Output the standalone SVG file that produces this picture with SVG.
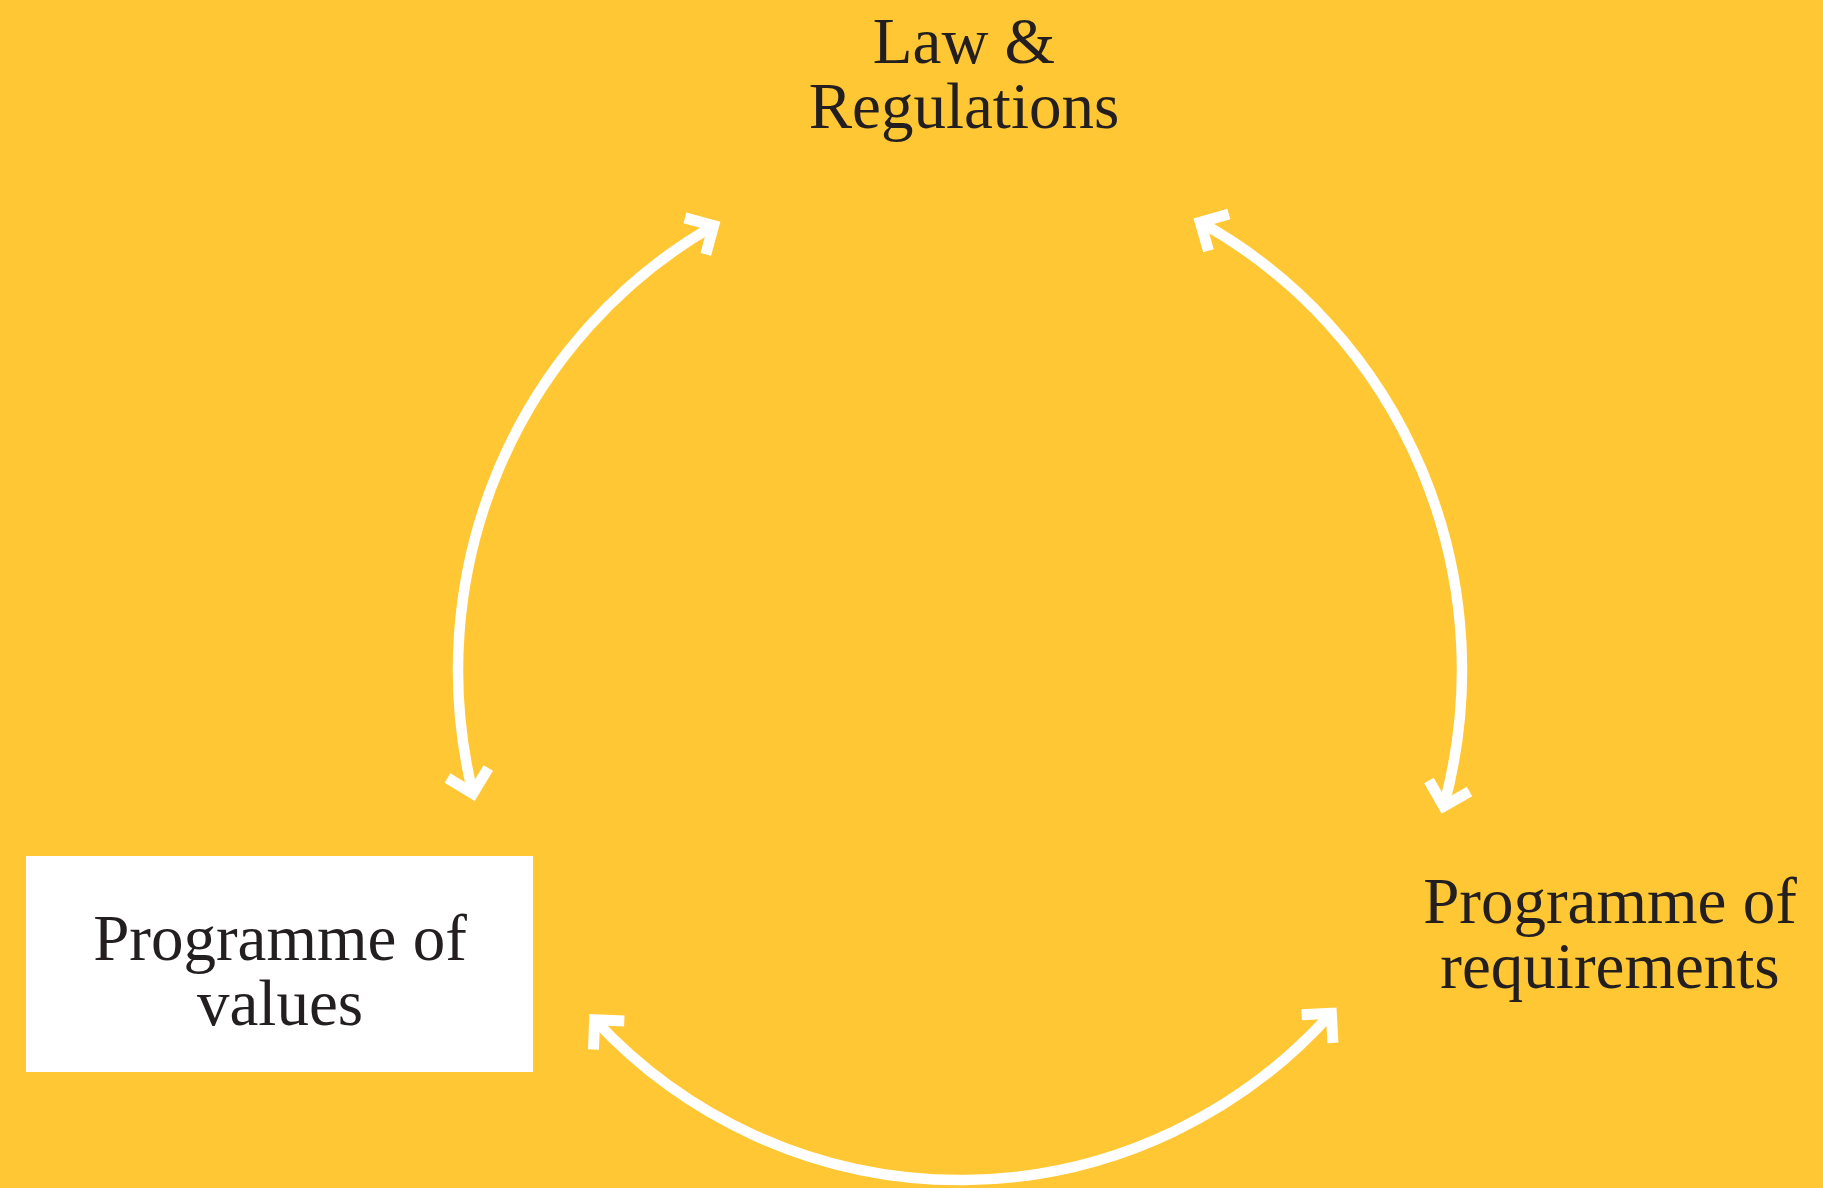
<svg xmlns="http://www.w3.org/2000/svg" width="1823" height="1188" viewBox="0 0 1823 1188">
<style>
.bg{fill:#FFC733}
.lbl{font-family:"Liberation Serif","Times New Roman",serif;font-size:65px;fill:#231F20;text-anchor:middle}
.arc{fill:none;stroke:#FFFFFF;stroke-width:10.5;marker-start:url(#chev);marker-end:url(#chev)}
.box{fill:#FFFFFF}
</style>
<defs>
<marker id="chev" markerUnits="userSpaceOnUse" viewBox="-40 -40 60 80" markerWidth="60" markerHeight="80" refX="0" refY="0" orient="auto-start-reverse" overflow="visible">
<path d="M -21,-21 L 0,0 L -21,21" fill="none" stroke="#FFFFFF" stroke-width="11" stroke-linejoin="miter" stroke-linecap="butt"/>
</marker>
</defs>
<rect class="bg" x="0" y="0" width="1823" height="1188"/>
<g id="connectors">
<path id="c-left" class="arc" d="M 713.6,225.7 A 502 510 0 0 0 472.9,793.4"/>
<path id="c-right" class="arc" d="M 1200.3,222.2 A 502 510 0 0 1 1443.7,806.3"/>
<path id="c-bottom" class="arc" d="M 594.6,1019.8 A 502 510 0 0 0 1331.3,1013.2"/>
</g>
<g id="law">
<text class="lbl" x="964" y="63">Law &amp;</text>
<text class="lbl" x="964" y="128">Regulations</text>
</g>
<g id="values">
<rect class="box" x="26" y="856" width="507" height="216"/>
<text class="lbl" x="280" y="960">Programme of</text>
<text class="lbl" x="280" y="1025">values</text>
</g>
<g id="requirements">
<text class="lbl" x="1610" y="923">Programme of</text>
<text class="lbl" x="1610" y="988">requirements</text>
</g>
</svg>
